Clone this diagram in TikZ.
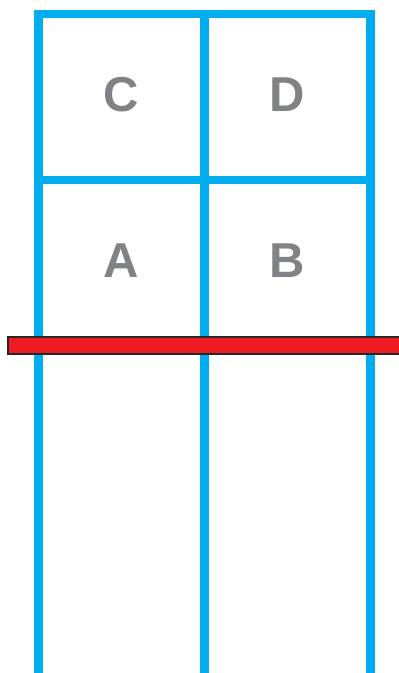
\documentclass[tikz,border=0pt]{standalone}
\usepackage{fontspec}
\setmainfont{Liberation Sans}
\definecolor{gridblue}{HTML}{00AEEF}
\definecolor{bargred}{HTML}{ED1C24}
\definecolor{lettergray}{HTML}{808285}
\begin{document}
\begin{tikzpicture}[x=1pt,y=-1pt,
  gridline/.style={draw=gridblue,line width=8.6pt,miter limit=10},
  label/.style={text=lettergray,font=\bfseries\fontsize{49}{49}\selectfont,inner sep=0pt,anchor=center},
  redbar/.style={fill=bargred,draw=black!85,line width=2pt}]
\useasboundingbox (0,0) rectangle (399,673);
\clip (0,0) rectangle (399,673);
% grid
\draw[gridline] (38.5,680) -- (38.5,14) -- (370.3,14) -- (370.3,680);
\draw[gridline] (204.5,14) -- (204.5,680);
\draw[gridline] (38.5,180) -- (370.3,180);
% red bar
\draw[redbar] (8.3,337) rectangle (403,354);
% labels
\node[label] (C) at (121,95) {C};
\node[label] (D) at (287,95) {D};
\node[label] (A) at (121,261) {A};
\node[label] (B) at (287,261) {B};
\end{tikzpicture}
\end{document}
